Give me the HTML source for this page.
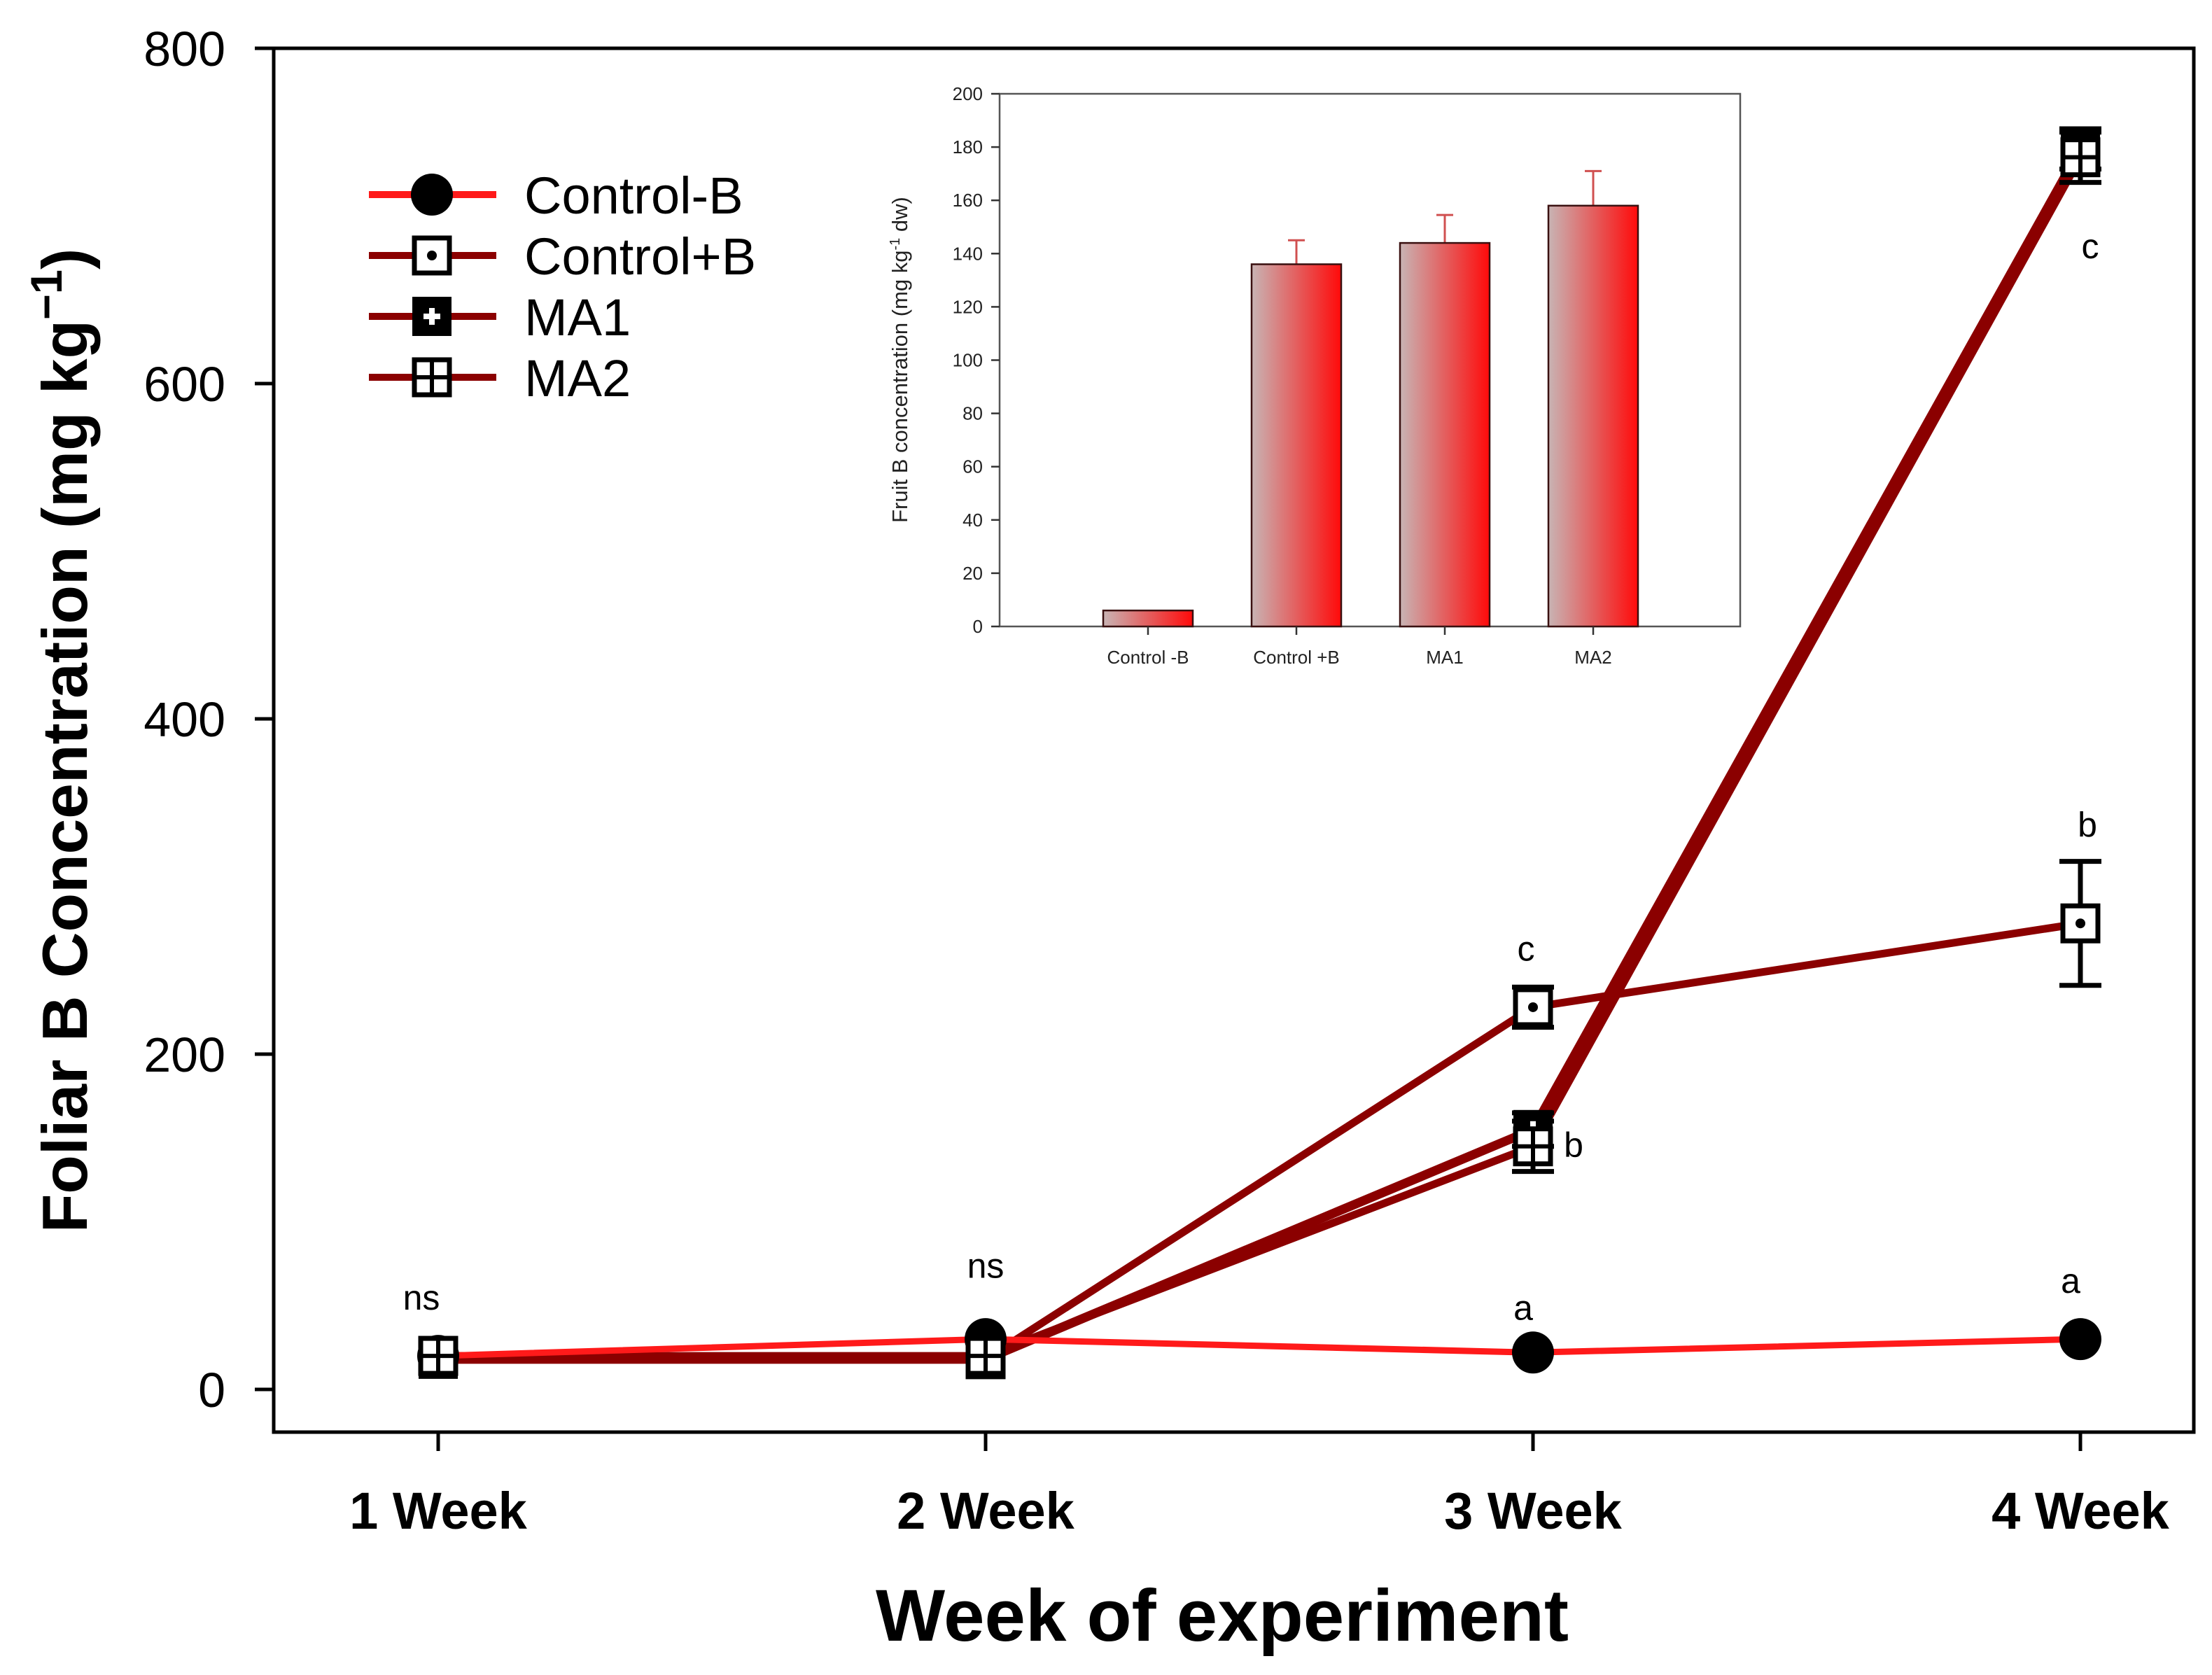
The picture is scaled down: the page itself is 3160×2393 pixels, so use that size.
<!DOCTYPE html>
<html><head><meta charset="utf-8"><style>
html,body{margin:0;padding:0;background:#fff;}
svg{display:block;font-family:"Liberation Sans",sans-serif;}
</style></head><body>
<svg id="chart" width="3160" height="2393" viewBox="0 0 3160 2393" xmlns="http://www.w3.org/2000/svg">
<defs>
<linearGradient id="barGrad" x1="0" x2="1" y1="0" y2="0">
<stop offset="0" stop-color="#c8b4b4"/><stop offset="1" stop-color="#ff0a0a"/>
</linearGradient>
</defs>
<g id="main"></g>
<g id="inset"></g>
</svg>
<script>
// ---- Main chart data ----
const weeks = ["1 Week","2 Week","3 Week","4 Week"];
const yTicks = [0,200,400,600,800];
const seriesNames = ["Control-B","Control+B","MA1","MA2"];
const controlMinus = [20,30,22,30];
const controlPlus = [20,18,228,278];
const controlPlusErr = [0,0,12,37];
const ma1 = [18,18,155,740];
const ma1Err = [0,0,10,12];
const ma2 = [20,20,145,735];
const ma2Err = [0,0,15,15];
const letterText = ["ns","ns","c","b","a","c","b","a"];
const letterWeek = [0,1,2,2,2,3,3,3];
const letterVal = [56,75,264,147,50,683,338,66];
const letterDx = [-24,0,-10,58,-14,14,10,-14];
// ---- Inset data ----
const insetCats = ["Control -B","Control +B","MA1","MA2"];
const insetVals = [6,136,144,158];
const insetErr = [0,9,10.5,13];
const insetTicks = [0,20,40,60,80,100,120,140,160,180,200];

const NS="http://www.w3.org/2000/svg";
function mk(tag,attrs,parent,text){const e=document.createElementNS(NS,tag);for(const k in attrs)e.setAttribute(k,attrs[k]);if(text!==undefined)e.textContent=text;parent.appendChild(e);return e;}
const main=document.getElementById('main');
const inset=document.getElementById('inset');
const X=i=>626+i*782;
const Y=v=>1985-v*(1985-69)/800;
const DARK="#8b0000", RED="#ff1a1a";

let fr=mk('rect',{x:391,y:69,width:2743,height:1977,fill:'none',stroke:'#000','stroke-width':5},main);

yTicks.forEach(t=>{
  let l=mk('line',{x1:364,x2:391,y1:Y(t),y2:Y(t),stroke:'#000','stroke-width':5},main);
  
  let tx=mk('text',{x:322,y:Y(t)+25,'font-size':70,'text-anchor':'end',fill:'#000'},main,t);
  
});
weeks.forEach((w,i)=>{
  let l=mk('line',{x1:X(i),x2:X(i),y1:2046,y2:2073,stroke:'#000','stroke-width':5},main);
  
  let tx=mk('text',{x:X(i),y:2184,'font-size':74,'font-weight':'bold','text-anchor':'middle'},main,w);
  
});
let xt=mk('text',{x:1746,y:2344,'font-size':105,'font-weight':'bold','text-anchor':'middle'},main,'Week of experiment');

let yt=mk('text',{x:0,y:0,'font-size':91,'font-weight':'bold','text-anchor':'middle',transform:'translate(124,1058) rotate(-90)'},main);

mk('tspan',{},yt,'Foliar B Concentration (mg kg');
mk('tspan',{dy:-36,'font-size':63},yt,'−1');
mk('tspan',{dy:36},yt,')');

function drawLine(vals,color,w,name){
  let p=mk('polyline',{points:vals.map((v,i)=>X(i)+','+Y(v)).join(' '),fill:'none',stroke:color,'stroke-width':w,'stroke-linejoin':'round'},main);
  
}
drawLine(controlPlus,DARK,11,'line-control-plus-b');
drawLine(ma1,DARK,13,'line-ma1');
drawLine(ma2,DARK,11,'line-ma2');
drawLine(controlMinus,RED,9,'line-control-minus-b');

function errBar(i,v,e){
  if(!e)return;
  let g=mk('g',{stroke:'#000','stroke-width':7},main);
  
  mk('line',{x1:X(i),x2:X(i),y1:Y(v+e),y2:Y(v-e)},g);
  mk('line',{x1:X(i)-30,x2:X(i)+30,y1:Y(v+e),y2:Y(v+e)},g);
  mk('line',{x1:X(i)-30,x2:X(i)+30,y1:Y(v-e),y2:Y(v-e)},g);
}
function marker(type,cx,cy,parent,name){
  let g=mk('g',{},parent);
  
  const s=25;
  if(type==='circle'){mk('circle',{cx:cx,cy:cy,r:30,fill:'#000'},g);}
  else if(type==='dot'){mk('rect',{x:cx-s,y:cy-s,width:2*s,height:2*s,fill:'#fff',stroke:'#000','stroke-width':7},g);mk('circle',{cx:cx,cy:cy,r:7,fill:'#000'},g);}
  else if(type==='plus'){mk('rect',{x:cx-s-3,y:cy-s-3,width:2*s+6,height:2*s+6,fill:'#000'},g);mk('rect',{x:cx-4,y:cy-12,width:8,height:24,fill:'#fff'},g);mk('rect',{x:cx-12,y:cy-4,width:24,height:8,fill:'#fff'},g);}
  else {mk('rect',{x:cx-s,y:cy-s,width:2*s,height:2*s,fill:'#fff',stroke:'#000','stroke-width':7},g);mk('line',{x1:cx,x2:cx,y1:cy-s,y2:cy+s,stroke:'#000','stroke-width':6},g);mk('line',{x1:cx-s,x2:cx+s,y1:cy,y2:cy,stroke:'#000','stroke-width':6},g);}
}
controlPlus.forEach((v,i)=>{errBar(i,v,controlPlusErr[i]);});
ma1.forEach((v,i)=>{errBar(i,v,ma1Err[i]);});
ma2.forEach((v,i)=>{errBar(i,v,ma2Err[i]);});
controlMinus.forEach((v,i)=>marker('circle',X(i),Y(v),main,'marker-control-minus-b'));
ma1.forEach((v,i)=>marker('plus',X(i),Y(v),main,'marker-ma1'));
controlPlus.forEach((v,i)=>marker('dot',X(i),Y(v),main,'marker-control-plus-b'));
ma2.forEach((v,i)=>marker('grid',X(i),Y(v),main,'marker-ma2'));

letterText.forEach((t,k)=>{
  let tx=mk('text',{x:X(letterWeek[k])+letterDx[k],y:Y(letterVal[k])+20,'font-size':50,'text-anchor':'middle'},main,t);
  
});

const legTypes=['circle','dot','plus','grid'];
const legColors=[RED,DARK,DARK,DARK];
seriesNames.forEach((n,k)=>{
  const y=278+k*87;
  let g=mk('g',{},main);
  
  mk('line',{x1:527,x2:709,y1:y,y2:y,stroke:legColors[k],'stroke-width':10},g);
  marker(legTypes[k],617,y,g,'legend-marker');
  mk('text',{x:749,y:y+27,'font-size':74},g,n);
});

const IX0=1428, IX1=2486, IY0=134, IY1=895;
const IY=v=>IY1-v*(IY1-IY0)/200;
const IXc=i=>1640+i*212;
let ifr=mk('rect',{x:IX0,y:IY0,width:IX1-IX0,height:IY1-IY0,fill:'#fff',stroke:'#555','stroke-width':2.5},inset);

insetTicks.forEach(t=>{
  let l=mk('line',{x1:IX0-12,x2:IX0,y1:IY(t),y2:IY(t),stroke:'#333','stroke-width':2.5},inset);
  
  let tx=mk('text',{x:IX0-24,y:IY(t)+9,'font-size':26,'text-anchor':'end',fill:'#222'},inset,t);
  
});
insetCats.forEach((c,i)=>{
  const v=insetVals[i];
  if(insetErr[i]){
    let g=mk('g',{stroke:'#d05050','stroke-width':3},inset);
    
    mk('line',{x1:IXc(i),x2:IXc(i),y1:IY(v),y2:IY(v+insetErr[i])},g);
    mk('line',{x1:IXc(i)-12,x2:IXc(i)+12,y1:IY(v+insetErr[i]),y2:IY(v+insetErr[i])},g);
  }
  let r=mk('rect',{x:IXc(i)-64,y:IY(v),width:128,height:IY1-IY(v),fill:'url(#barGrad)',stroke:'#3a1010','stroke-width':2.5},inset);
  
  let l=mk('line',{x1:IXc(i),x2:IXc(i),y1:IY1,y2:IY1+12,stroke:'#333','stroke-width':2.5},inset);
  
  let tx=mk('text',{x:IXc(i),y:948,'font-size':26,'text-anchor':'middle',fill:'#222'},inset,c);
  
});
let it=mk('text',{x:0,y:0,'font-size':31,'text-anchor':'middle',fill:'#222',transform:'translate(1296,514) rotate(-90)'},inset);

mk('tspan',{},it,'Fruit B concentration (mg kg');
mk('tspan',{dy:-11,'font-size':20},it,'-1');
mk('tspan',{dy:11},it,' dw)');
</script>
</body></html>
